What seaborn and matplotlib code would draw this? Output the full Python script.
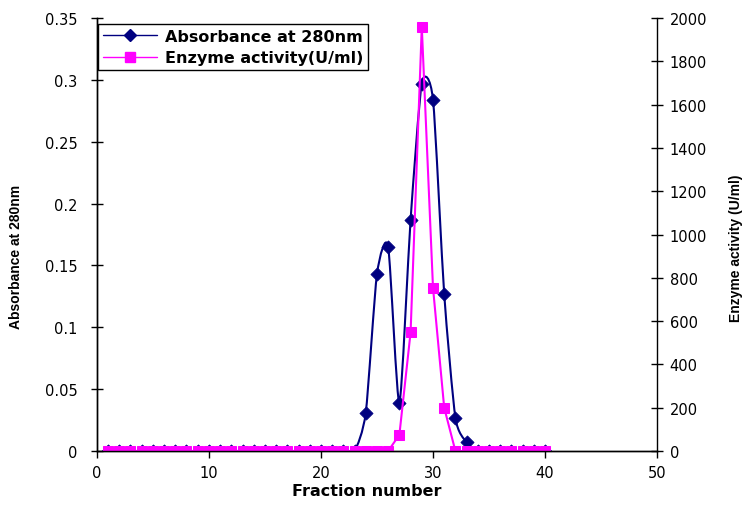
import numpy as np
import pandas as pd
import matplotlib
matplotlib.use('Agg')
import matplotlib.pyplot as plt
import seaborn as sns
from matplotlib.path import Path
from matplotlib.patches import PathPatch
from matplotlib.lines import Line2D

# data
fraction = list(range(1, 41))
absorbance = [0, 0, 0, 0, 0, 0, 0, 0, 0, 0,
              0, 0, 0, 0, 0, 0, 0, 0, 0, 0,
              0, 0, 0, 0.031, 0.143, 0.165, 0.039, 0.187, 0.297, 0.284,
              0.127, 0.027, 0.007, 0, 0, 0, 0, 0, 0, 0]
enzyme = [0, 0, 0, 0, 0, 0, 0, 0, 0, 0,
          0, 0, 0, 0, 0, 0, 0, 0, 0, 0,
          0, 0, 0, 0, 0, 0, 75, 548, 1960, 755,
          200, 0, 0, 0, 0, 0, 0, 0, 0, 0]

df = pd.DataFrame({'Fraction': fraction, 'Absorbance': absorbance, 'Enzyme': enzyme})

sns.set_style('white')
plt.rcParams['font.family'] = ['DejaVu Sans']
plt.rcParams['text.color'] = 'black'
plt.rcParams['axes.labelcolor'] = 'black'

fig = plt.figure(figsize=(7.45, 5.1), dpi=100)
ax = fig.add_axes([0.130, 0.1137, 0.752, 0.849])

navy = '#000080'
pink = '#FF00FF'

# smoothed absorbance line (Excel style bezier through the points)
x = df['Fraction'].to_numpy(float)
y = df['Absorbance'].to_numpy(float)
k = 1 / 9
verts = [(x[0], y[0])]
codes = [Path.MOVETO]
n = len(x)
for i in range(n - 1):
    xp, yp = (x[i - 1], y[i - 1]) if i > 0 else (x[i], y[i])
    xn2, yn2 = (x[i + 2], y[i + 2]) if i + 2 < n else (x[i + 1], y[i + 1])
    c1 = (x[i] + (x[i + 1] - xp) * k, y[i] + (y[i + 1] - yp) * k)
    c2 = (x[i + 1] - (xn2 - x[i]) * k, y[i + 1] - (yn2 - y[i]) * k)
    verts += [c1, c2, (x[i + 1], y[i + 1])]
    codes += [Path.CURVE4] * 3
ax.add_patch(PathPatch(Path(verts, codes), fill=False, edgecolor=navy, lw=1.5))
sns.scatterplot(data=df, x='Fraction', y='Absorbance', marker='D', s=45,
                color=navy, edgecolor=navy, ax=ax, zorder=3)

ax.set_xlim(0, 50)
ax.set_ylim(0, 0.35)
ax.set_xticks(range(0, 51, 10))
ax.set_yticks(np.arange(0, 0.351, 0.05))
ax.set_yticklabels(['0', '0.05', '0.1', '0.15', '0.2', '0.25', '0.3', '0.35'])
ax.set_xlabel('Fraction number', fontsize=11.5, fontweight='bold')
ax.xaxis.set_label_coords(0.482, -0.075)
ax.set_ylabel('Absorbance at 280nm', family='Liberation Sans', fontsize=10,
              fontweight='bold')
ax.yaxis.set_label_coords(-0.132, 0.45)

ax2 = ax.twinx()
sns.lineplot(data=df, x='Fraction', y='Enzyme', marker='s', markersize=7,
             color=pink, markeredgecolor=pink, lw=1.5, ax=ax2)
ax2.set_ylim(0, 2000)
ax2.set_yticks(range(0, 2001, 200))
ax2.set_ylabel('Enzyme activity (U/ml)', family='Liberation Sans', fontsize=10,
               fontweight='bold')
ax2.yaxis.set_label_coords(1.128, 0.47)

for a in (ax, ax2):
    a.spines['top'].set_visible(False)
    for s in a.spines.values():
        s.set_color('black')
        s.set_linewidth(1)
    a.tick_params(labelsize=10.5, colors='black')
ax.spines['right'].set_visible(False)
ax.tick_params(axis='x', direction='out', length=5, width=1, bottom=True, pad=5)
ax.tick_params(axis='y', direction='inout', length=8, width=1, left=True, pad=10)
ax2.tick_params(axis='y', direction='inout', length=8, width=1, right=True, pad=5)

handles = [Line2D([], [], color=navy, marker='D', markersize=6, lw=1),
           Line2D([], [], color=pink, marker='s', markersize=7, lw=1)]
leg = ax2.legend(handles, ['Absorbance at 280nm', 'Enzyme activity(U/ml)'],
                 loc='upper left', bbox_to_anchor=(0.002, 0.986), borderaxespad=0,
                 fancybox=False, framealpha=1, edgecolor='black',
                 prop={'weight': 'bold', 'size': 11.5},
                 handlelength=3.4, borderpad=0.3, labelspacing=0.4, handletextpad=0.5)
leg.get_frame().set_linewidth(1)
for t in leg.get_texts():
    t.set_color('black')

fig.savefig('out.png', dpi=100)
